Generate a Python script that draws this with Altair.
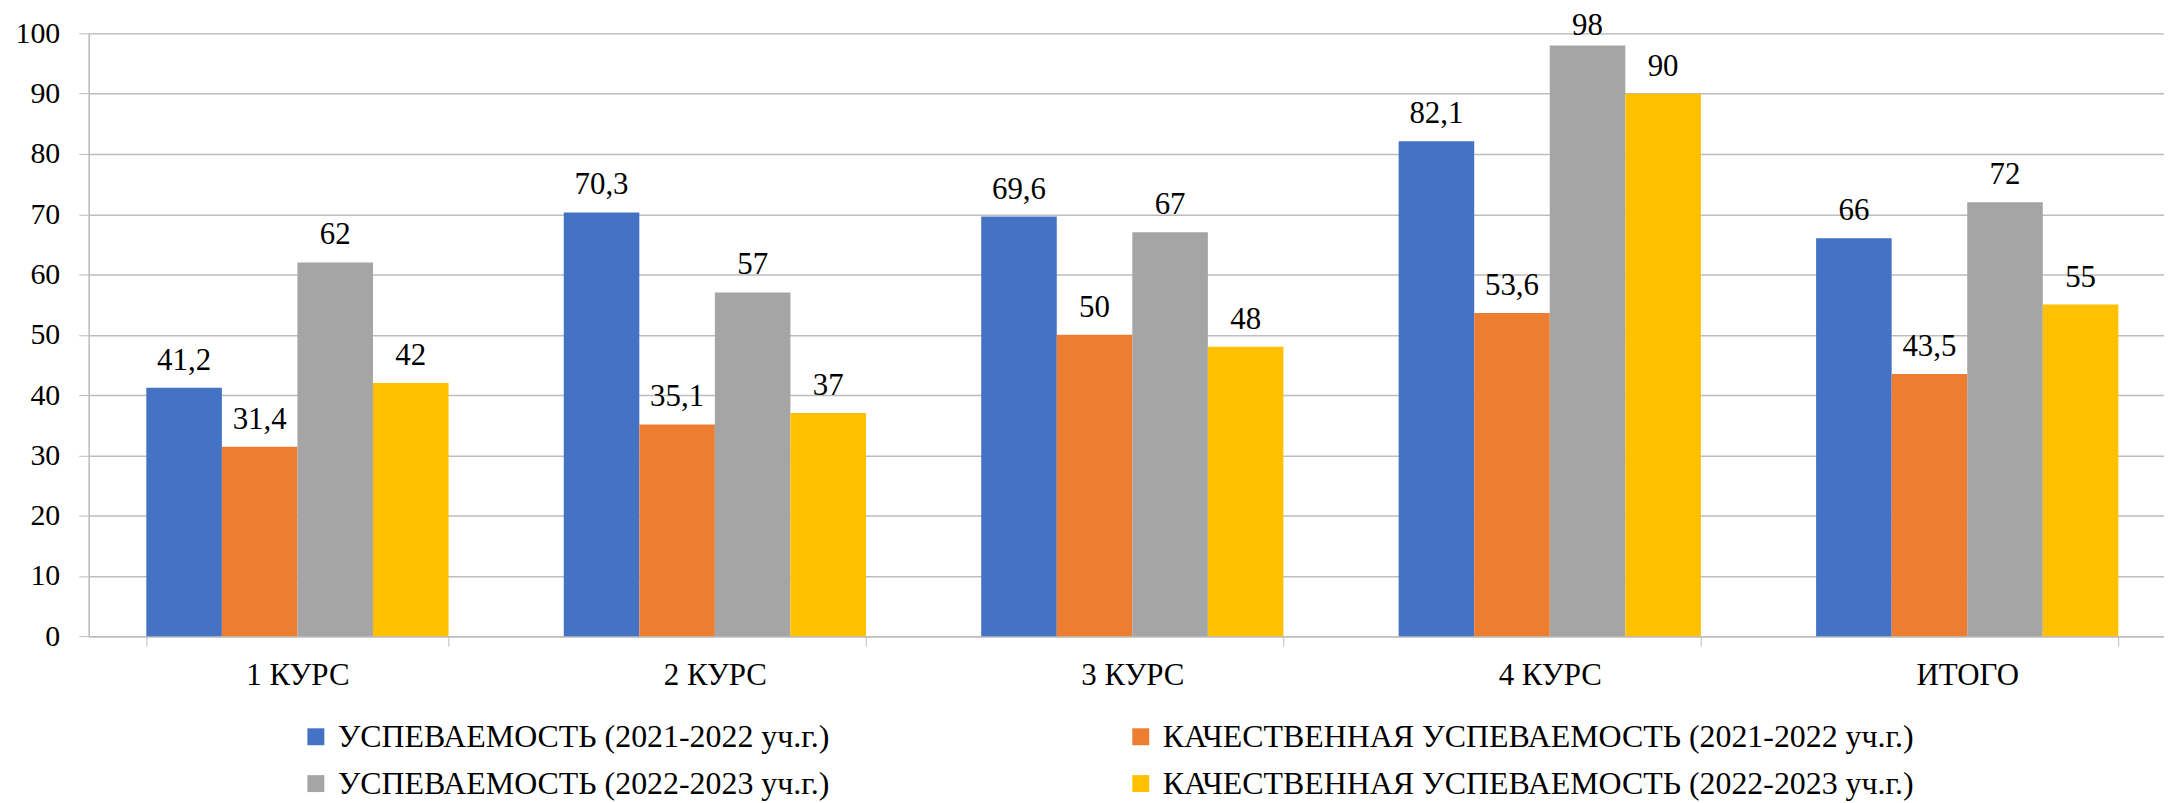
import altair as alt
import pandas as pd

categories = ["1 КУРС", "2 КУРС", "3 КУРС", "4 КУРС", "ИТОГО"]
series = [
    "УСПЕВАЕМОСТЬ (2021-2022 уч.г.)",
    "КАЧЕСТВЕННАЯ УСПЕВАЕМОСТЬ (2021-2022 уч.г.)",
    "УСПЕВАЕМОСТЬ (2022-2023 уч.г.)",
    "КАЧЕСТВЕННАЯ УСПЕВАЕМОСТЬ (2022-2023 уч.г.)",
]
s1 = [41.2, 70.3, 69.6, 82.1, 66]
s2 = [31.4, 35.1, 50, 53.6, 43.5]
s3 = [62, 57, 67, 98, 72]
s4 = [42, 37, 48, 90, 55]
colors = ["#4472C4", "#ED7D31", "#A5A5A5", "#FFC000"]
y_ticks = [0, 10, 20, 30, 40, 50, 60, 70, 80, 90, 100]

rows = []
for name, vals in zip(series, [s1, s2, s3, s4]):
    for c, v in zip(categories, vals):
        rows.append({"cat": c, "series": name, "value": v,
                     "label": f"{v:g}".replace(".", ",")})
df = pd.DataFrame(rows)

FONT = "Liberation Serif"
GRID = "#BDBDBD"

x_enc = alt.X("cat:N", sort=categories, title=None,
              scale=alt.Scale(range=[0, 2095], paddingInner=0.276, paddingOuter=0.138),
              axis=alt.Axis(labelAngle=0, labelFont=FONT, labelFontSize=31,
                            labelColor="black", labelPadding=15,
                            tickBand="extent", tickSize=10, tickColor=GRID,
                            domainColor=GRID, domainWidth=1.5, grid=False))
xoff = alt.XOffset("series:N", sort=series,
                   scale=alt.Scale(paddingInner=0, paddingOuter=0))
y_enc = alt.Y("value:Q", title=None,
              scale=alt.Scale(domain=[0, 100], nice=False),
              axis=alt.Axis(values=y_ticks, labelFont=FONT, labelFontSize=30,
                            labelColor="black", labelPadding=19,
                            tickSize=10, tickColor=GRID, domainColor=GRID,
                            domainWidth=1.5, gridColor=GRID, gridWidth=1.5))

bars = alt.Chart(df).mark_bar().encode(
    x=x_enc, xOffset=xoff, y=y_enc,
    color=alt.Color("series:N", sort=series,
                    scale=alt.Scale(domain=series, range=colors),
                    legend=alt.Legend(title=None, orient="none", legendX=212, legendY=690,
                                      direction="horizontal",
                                      columns=2, columnPadding=296, rowPadding=15,
                                      symbolType="square", symbolSize=289,
                                      symbolStrokeWidth=0, labelOffset=6,
                                      labelFont=FONT, labelFontSize=32,
                                      labelColor="black", labelLimit=2000)),
)

labels = alt.Chart(df).transform_calculate(
    ly="min(datum.value + 3, 99.8)"
).mark_text(font=FONT, fontSize=31, color="black", baseline="alphabetic").encode(
    x=alt.X("cat:N", sort=categories), xOffset=alt.XOffset("series:N", sort=series),
    y="ly:Q", text="label:N",
)

chart = alt.layer(bars, labels).properties(
    width=2083, height=605,
    autosize=alt.AutoSizeParams(type="none"),
    padding={"left": 81, "top": 24, "right": 0, "bottom": 165},
).configure_view(stroke=None).configure(background="white")

chart.save("out.html", embed_options={"renderer": "svg", "actions": False})
